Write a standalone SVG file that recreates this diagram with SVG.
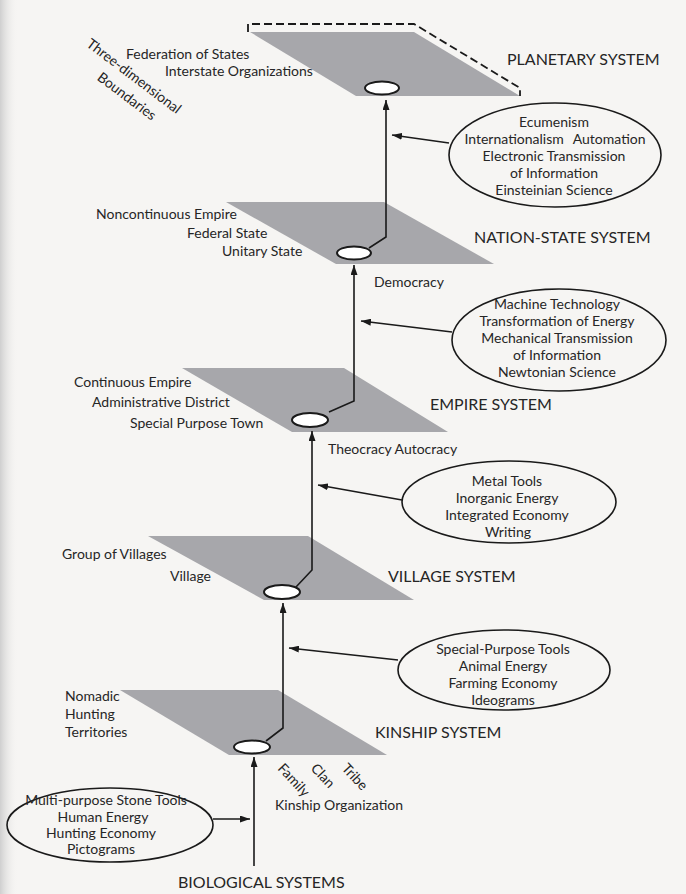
<svg xmlns="http://www.w3.org/2000/svg" width="686" height="894" viewBox="0 0 686 894">
<style>
  text{font-family:Lato,"Open Sans","Liberation Sans",sans-serif;fill:#262626}
  .lbl{font-size:14px}
  .ttl{font-size:16px}
  .plane{fill:#a7a7ab}
  .hole{fill:#fff;stroke:#1a1a1a;stroke-width:2}
  .bub{fill:none;stroke:#1a1a1a;stroke-width:1.6}
  .con{fill:none;stroke:#1a1a1a;stroke-width:1.6}
  .dash{fill:none;stroke:#1a1a1a;stroke-width:1.8;stroke-dasharray:8 4}
  .mid{text-anchor:middle}
</style>
<defs>
  <linearGradient id="gutter" x1="0" y1="0" x2="1" y2="0">
    <stop offset="0" stop-color="#cfcfcf"/>
    <stop offset="1" stop-color="#f6f5f3" stop-opacity="0"/>
  </linearGradient>
  <marker id="ah" viewBox="0 0 10 7" refX="10" refY="3.5" markerWidth="10" markerHeight="7" markerUnits="userSpaceOnUse" orient="auto">
    <path d="M0,0 L10,3.5 L0,7 z" fill="#1a1a1a"/>
  </marker>
</defs>
<rect width="686" height="894" fill="#f6f5f3"/>
<rect width="18" height="894" fill="url(#gutter)"/>

<g id="planetary">
  <polygon class="plane" points="250,32 414,32 520,96 356,96"/>
  <path class="dash" d="M248,32 L248,24 L414,24 L520,88 L520,96"/>
  <ellipse class="hole" cx="382" cy="88" rx="17" ry="6.5"/>
  <text class="lbl" x="126" y="59">Federation of States</text>
  <text class="lbl" x="165" y="76">Interstate Organizations</text>
  <text class="ttl" x="507" y="65">PLANETARY SYSTEM</text>
</g>
<g id="boundaries-label">
  <text class="lbl mid" transform="translate(131,80) rotate(37)">Three-dimensional</text>
  <text class="lbl mid" transform="translate(124,100) rotate(37)">Boundaries</text>
</g>
<g id="bubble-planetary">
  <ellipse class="bub" cx="555" cy="155" rx="106" ry="52"/>
  <text class="lbl mid" x="554" y="127">Ecumenism</text>
  <text class="lbl mid" x="555" y="144">Internationalism<tspan dx="9">Automation</tspan></text>
  <text class="lbl mid" x="554" y="161">Electronic Transmission</text>
  <text class="lbl mid" x="554" y="178">of Information</text>
  <text class="lbl mid" x="554" y="195">Einsteinian Science</text>
</g>

<g id="nation-state">
  <polygon class="plane" points="226,202 384,202 494,264 336,264"/>
  <ellipse class="hole" cx="354" cy="253" rx="17" ry="6.5"/>
  <text class="lbl" x="96" y="219">Noncontinuous Empire</text>
  <text class="lbl" x="187" y="238">Federal State</text>
  <text class="lbl" x="222" y="256">Unitary State</text>
  <text class="ttl" x="474" y="243">NATION-STATE SYSTEM</text>
  <text class="lbl" x="374" y="287">Democracy</text>
</g>
<g id="bubble-machine">
  <ellipse class="bub" cx="559" cy="340" rx="107" ry="51"/>
  <text class="lbl mid" x="557" y="309">Machine Technology</text>
  <text class="lbl mid" x="557" y="326">Transformation of Energy</text>
  <text class="lbl mid" x="557" y="343">Mechanical Transmission</text>
  <text class="lbl mid" x="557" y="360">of Information</text>
  <text class="lbl mid" x="557" y="377">Newtonian Science</text>
</g>

<g id="empire">
  <polygon class="plane" points="182,368 344,368 448,432 292,432"/>
  <ellipse class="hole" cx="310" cy="420" rx="18" ry="7"/>
  <text class="lbl" x="74" y="387">Continuous Empire</text>
  <text class="lbl" x="92" y="407">Administrative District</text>
  <text class="lbl" x="130" y="428">Special Purpose Town</text>
  <text class="ttl" x="430" y="410">EMPIRE SYSTEM</text>
  <text class="lbl" x="328" y="454">Theocracy Autocracy</text>
</g>
<g id="bubble-metal">
  <ellipse class="bub" cx="509" cy="502" rx="107" ry="41"/>
  <text class="lbl mid" x="507" y="486">Metal Tools</text>
  <text class="lbl mid" x="507" y="503">Inorganic Energy</text>
  <text class="lbl mid" x="507" y="520">Integrated Economy</text>
  <text class="lbl mid" x="508" y="537">Writing</text>
</g>

<g id="village">
  <polygon class="plane" points="148,536 308,536 414,600 264,600"/>
  <ellipse class="hole" cx="282" cy="592" rx="18" ry="7"/>
  <text class="lbl" x="62" y="559">Group of Villages</text>
  <text class="lbl" x="170" y="581">Village</text>
  <text class="ttl" x="388" y="582">VILLAGE SYSTEM</text>
</g>
<g id="bubble-special">
  <ellipse class="bub" cx="504" cy="670" rx="106" ry="40"/>
  <text class="lbl mid" x="503" y="654">Special-Purpose Tools</text>
  <text class="lbl mid" x="503" y="671">Animal Energy</text>
  <text class="lbl mid" x="503" y="688">Farming Economy</text>
  <text class="lbl mid" x="503" y="705">Ideograms</text>
</g>

<g id="kinship">
  <polygon class="plane" points="120,690 278,690 387,755 229,755"/>
  <ellipse class="hole" cx="252" cy="747" rx="18" ry="6.5"/>
  <text class="lbl" x="65" y="701">Nomadic</text>
  <text class="lbl" x="65" y="719">Hunting</text>
  <text class="lbl" x="65" y="737">Territories</text>
  <text class="ttl" x="375" y="738">KINSHIP SYSTEM</text>
  <text class="lbl" transform="translate(277,769) rotate(47)">Family</text>
  <text class="lbl" transform="translate(310,769) rotate(47)">Clan</text>
  <text class="lbl" transform="translate(341,769) rotate(47)">Tribe</text>
  <text class="lbl" x="275" y="810">Kinship Organization</text>
</g>
<g id="bubble-stone">
  <ellipse class="bub" cx="110" cy="825" rx="103" ry="37"/>
  <text class="lbl mid" x="106" y="805">Multi-purpose Stone Tools</text>
  <text class="lbl mid" x="103" y="822">Human Energy</text>
  <text class="lbl mid" x="101" y="838">Hunting Economy</text>
  <text class="lbl mid" x="101" y="854">Pictograms</text>
</g>

<g id="biological">
  <text class="ttl" x="178" y="888">BIOLOGICAL SYSTEMS</text>
</g>

<g id="connectors">
  <path class="con" d="M369,248 L386,237 L386,100" marker-end="url(#ah)"/>
  <path class="con" d="M449,143 L392,135" marker-end="url(#ah)"/>
  <path class="con" d="M329,412 L354,401 L354,265" marker-end="url(#ah)"/>
  <path class="con" d="M452,332 L361,321" marker-end="url(#ah)"/>
  <path class="con" d="M296,587 L312,570 L312,431" marker-end="url(#ah)"/>
  <path class="con" d="M402,500 L318,485" marker-end="url(#ah)"/>
  <path class="con" d="M266,741 L283,728 L283,603" marker-end="url(#ah)"/>
  <path class="con" d="M398,660 L289,648" marker-end="url(#ah)"/>
  <path class="con" d="M254,866 L254,757" marker-end="url(#ah)"/>
  <path class="con" d="M213,819 L250,819" marker-end="url(#ah)"/>
</g>
</svg>
